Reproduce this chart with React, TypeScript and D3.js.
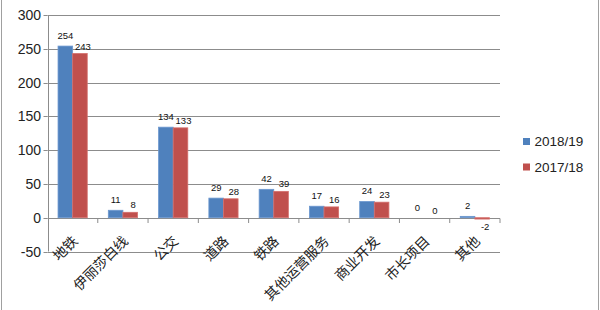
import React from "react";
import * as d3 from "d3";

const categories = ["地铁", "伊丽莎白线", "公交", "道路", "铁路", "其他运营服务", "商业开发", "市长项目", "其他"];
const series2018 = [254, 11, 134, 29, 42, 17, 24, 0, 2];
const series2017 = [243, 8, 133, 28, 39, 16, 23, 0, -2];
const seriesNames = ["2018/19", "2017/18"];
const yTicks = [-50, 0, 50, 100, 150, 200, 250, 300];

const W = 600;
const H = 310;
const left = 47.5;
const right = 500;
const top = 15;
const bottom = 251.5;
const colors = ["#4F81BD", "#C0504D"];
const strokes = ["#6b97cf", "#d46f6c"];

export default function App() {
  const x = d3.scaleBand<string>().domain(categories).range([left, right]).paddingInner(0).paddingOuter(0);
  const y = d3.scaleLinear().domain([-50, 300]).range([bottom, top]);
  const bw = 14.6;
  const all = [series2018, series2017];
  const y0 = y(0);

  return (
    <svg width={W} height={H} style={{ position: "absolute", left: 0, top: 0, background: "#fff" }}>
      <line x1={1.5} x2={1.5} y1={0} y2={H} stroke="#a0a0a0" />
      <line x1={598.5} x2={598.5} y1={0} y2={H} stroke="#a0a0a0" />
      {yTicks.map((t) => (
        <g key={t}>
          <line x1={left} x2={right} y1={Math.round(y(t)) + 0.5} y2={Math.round(y(t)) + 0.5} stroke="#8c8c8c" />
          <line x1={left - 4} x2={left} y1={Math.round(y(t)) + 0.5} y2={Math.round(y(t)) + 0.5} stroke="#8c8c8c" />
          <text x={41} y={y(t) + 5} textAnchor="end" fontFamily="Liberation Sans, Arial, sans-serif" fontSize={14} fill="#222">
            {t}
          </text>
        </g>
      ))}
      <line x1={Math.round(left) + 0.5} x2={Math.round(left) + 0.5} y1={top} y2={bottom} stroke="#8c8c8c" />
      {categories.map((c, i) => (
        <line key={"tk" + i} x1={x(c)! + x.bandwidth()} x2={x(c)! + x.bandwidth()} y1={Math.round(y0) + 0.5} y2={Math.round(y0) + 5} stroke="#8c8c8c" />
      ))}
      {all.map((s, si) =>
        s.map((v, i) => {
          const cx = x(categories[i])! + x.bandwidth() / 2;
          const bx = cx - bw + si * bw;
          const yt = y(Math.max(v, 0));
          const h = Math.abs(y(v) - y0);
          return (
            <g key={si + "-" + i}>
              {v !== 0 && (
                <rect x={bx} y={yt} width={bw} height={h} fill={colors[si]} stroke={strokes[si]} strokeWidth={0.8} />
              )}
              <text
                x={bx + bw / 2 + (si === 1 ? 3 : 0)}
                y={v >= 0 ? yt - (si === 0 ? 7 : 4) : y(v) + 11}
                textAnchor="middle"
                fontFamily="Liberation Sans, Arial, sans-serif"
                fontSize={9.5}
                fill="#111"
              >
                {v}
              </text>
            </g>
          );
        })
      )}
      {categories.map((c, i) => {
        const px = x(c)! + x.bandwidth() / 2 + 6;
        const py = 242;
        return (
          <text
            key={"c" + i}
            x={px}
            y={py}
            transform={`rotate(-45, ${px}, ${py})`}
            textAnchor="end"
            fontFamily="Noto Sans CJK SC, sans-serif"
            fontSize={14}
            fill="#222"
          >
            {c}
          </text>
        );
      })}
      {seriesNames.map((n, i) => (
        <g key={n}>
          <rect x={523} y={138 + i * 25.5} width={7} height={7} fill={colors[i]} />
          <text x={534.5} y={146 + i * 25.5} fontFamily="Liberation Sans, Arial, sans-serif" fontSize={13.5} fill="#222">
            {n}
          </text>
        </g>
      ))}
    </svg>
  );
}
